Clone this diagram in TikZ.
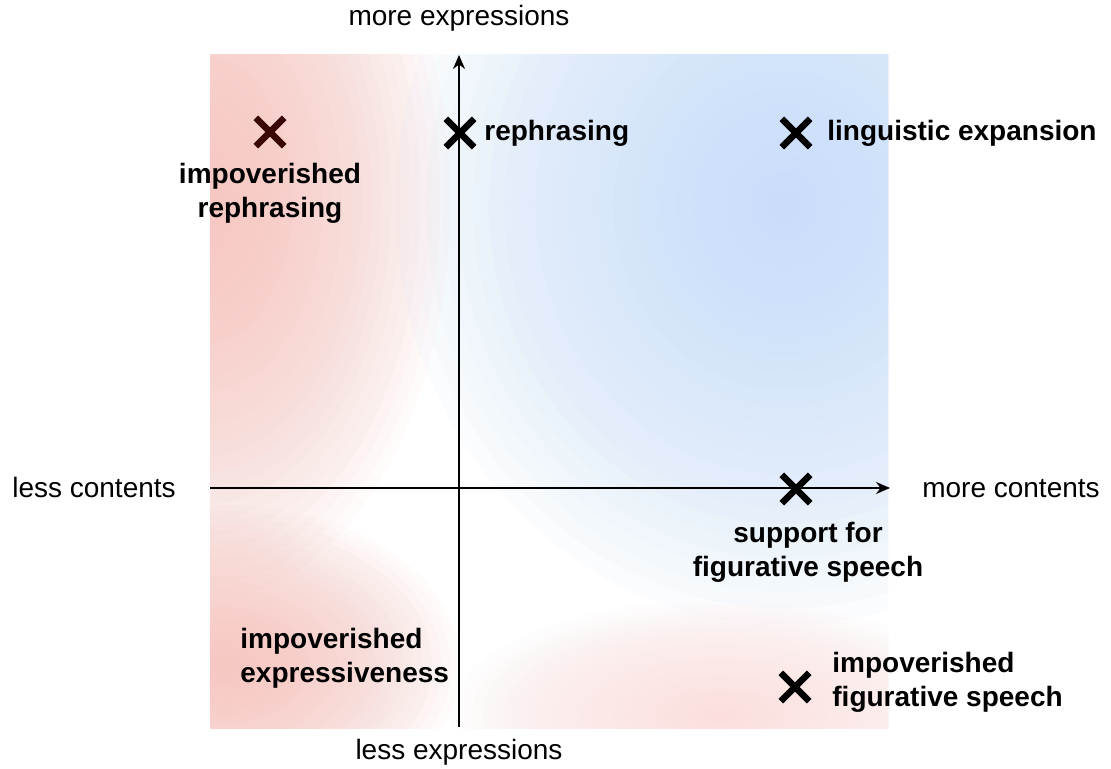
\documentclass[tikz,border=0pt]{standalone}
\usepackage{fontspec}
\setmainfont{Liberation Sans}
\usetikzlibrary{arrows.meta,shapes.misc}

\definecolor{blushred}{RGB}{247,188,182}
\definecolor{skyblue}{RGB}{192,218,250}
\definecolor{markbrown}{RGB}{58,8,4}

% soft round blob: many see-through ellipses, one inside the other
\newcommand{\softblob}[4]{%
  \foreach \s in {1,...,25}
    \fill[#1, fill opacity=0.055] #2 ellipse ({#3*\s/25} and {#4*\s/25});}

\begin{document}
\begin{tikzpicture}[x=0.5pt, y=-0.5pt,
  xmark/.style={cross out, draw, line width=3.2pt, minimum size=11pt, inner sep=0pt},
  arrowaxis/.style={line width=1pt, -{Stealth[length=7pt,width=6pt]}},
  axistext/.style={font=\fontsize{14}{17}\selectfont, inner sep=0pt},
  tag/.style={font=\fontsize{14}{17}\selectfont\bfseries, inner sep=0pt}]
\useasboundingbox (0,0) rectangle (1111,769);
\fill[white] (0,0) rectangle (1111,769);

% shaded quadrants
\begin{scope}
  \clip (210,55) rectangle (888,728);
  \softblob{skyblue}{(785,205)}{390}{420}
  \softblob{blushred}{(205,200)}{245}{400}
  \softblob{blushred}{(225,665)}{235}{160}
  \softblob{blushred!50}{(720,715)}{270}{115}
\end{scope}

% axes
\coordinate (left) at (210,488);
\coordinate (right) at (890,488);
\coordinate (bottom) at (459,727);
\coordinate (top) at (459,55);
\draw[arrowaxis] (left) -- (right);
\draw[arrowaxis] (bottom) -- (top);

\node[axistext, anchor=base] (moreexp) at (459,26) {more expressions};
\node[axistext, anchor=base] (lessexp) at (459,759) {less expressions};
\node[axistext, anchor=base] (lesscon) at (94,497) {less contents};
\node[axistext, anchor=base] (morecon) at (1011,497) {more contents};

% points
\node[xmark, draw=markbrown] (ximprep) at (270,132) {};
\node[xmark] (xrep) at (460,133) {};
\node[xmark] (xling) at (796,133) {};
\node[xmark] (xsupp) at (796,489) {};
\node[xmark] (ximpfig) at (795,687) {};

\node[tag, anchor=base west] (rep) at (484,141) {rephrasing};
\node[tag, anchor=base west] (ling) at (827,141) {linguistic expansion};
\node[tag, anchor=north, align=center] (imprep) at (270,163) {impoverished\\rephrasing};
\node[tag, anchor=north, align=center] (supp) at (808,522) {support for\\figurative speech};
\node[tag, anchor=north west, align=left] (impexp) at (240,628) {impoverished\\expressiveness};
\node[tag, anchor=north west, align=left] (impfig) at (832,652) {impoverished\\figurative speech};
\end{tikzpicture}
\end{document}
